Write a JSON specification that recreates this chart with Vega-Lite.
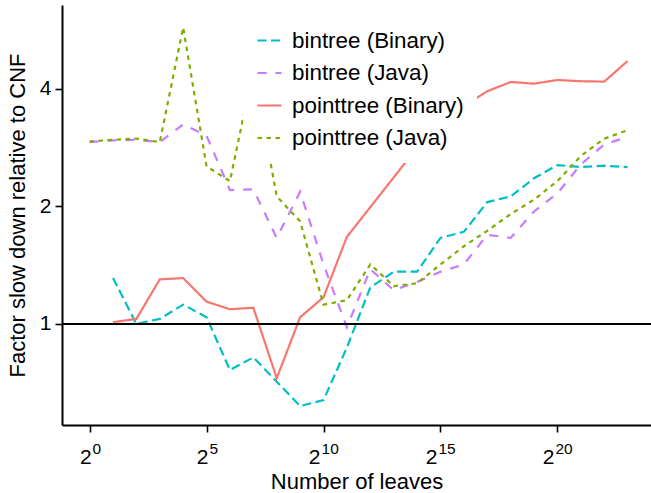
{
  "$schema": "https://vega.github.io/schema/vega-lite/v6.json",
  "width": 589,
  "height": 420,
  "autosize": "none",
  "padding": {"left": 62, "top": 5, "right": 0, "bottom": 68},
  "config": {"view": {"stroke": null}, "font": "Liberation Sans"},
  "datasets": {
    "runs": [
      {"leaves": 2, "series": "bintree (Binary)", "factor": 1.31},
      {"leaves": 4, "series": "bintree (Binary)", "factor": 1.0},
      {"leaves": 8, "series": "bintree (Binary)", "factor": 1.03},
      {"leaves": 16, "series": "bintree (Binary)", "factor": 1.12},
      {"leaves": 32, "series": "bintree (Binary)", "factor": 1.04},
      {"leaves": 64, "series": "bintree (Binary)", "factor": 0.762},
      {"leaves": 128, "series": "bintree (Binary)", "factor": 0.821},
      {"leaves": 256, "series": "bintree (Binary)", "factor": 0.711},
      {"leaves": 512, "series": "bintree (Binary)", "factor": 0.616},
      {"leaves": 1024, "series": "bintree (Binary)", "factor": 0.638},
      {"leaves": 2048, "series": "bintree (Binary)", "factor": 0.87},
      {"leaves": 4096, "series": "bintree (Binary)", "factor": 1.24},
      {"leaves": 8192, "series": "bintree (Binary)", "factor": 1.36},
      {"leaves": 16384, "series": "bintree (Binary)", "factor": 1.36},
      {"leaves": 32768, "series": "bintree (Binary)", "factor": 1.66},
      {"leaves": 65536, "series": "bintree (Binary)", "factor": 1.72},
      {"leaves": 131072, "series": "bintree (Binary)", "factor": 2.05},
      {"leaves": 262144, "series": "bintree (Binary)", "factor": 2.12},
      {"leaves": 524288, "series": "bintree (Binary)", "factor": 2.36},
      {"leaves": 1048576, "series": "bintree (Binary)", "factor": 2.55},
      {"leaves": 2097152, "series": "bintree (Binary)", "factor": 2.52},
      {"leaves": 4194304, "series": "bintree (Binary)", "factor": 2.54},
      {"leaves": 8388608, "series": "bintree (Binary)", "factor": 2.52},

      {"leaves": 1, "series": "bintree (Java)", "factor": 2.92},
      {"leaves": 2, "series": "bintree (Java)", "factor": 2.95},
      {"leaves": 4, "series": "bintree (Java)", "factor": 2.96},
      {"leaves": 8, "series": "bintree (Java)", "factor": 2.92},
      {"leaves": 16, "series": "bintree (Java)", "factor": 3.24},
      {"leaves": 32, "series": "bintree (Java)", "factor": 3.03},
      {"leaves": 64, "series": "bintree (Java)", "factor": 2.2},
      {"leaves": 128, "series": "bintree (Java)", "factor": 2.21},
      {"leaves": 256, "series": "bintree (Java)", "factor": 1.66},
      {"leaves": 512, "series": "bintree (Java)", "factor": 2.18},
      {"leaves": 1024, "series": "bintree (Java)", "factor": 1.42},
      {"leaves": 2048, "series": "bintree (Java)", "factor": 0.98},
      {"leaves": 4096, "series": "bintree (Java)", "factor": 1.38},
      {"leaves": 8192, "series": "bintree (Java)", "factor": 1.22},
      {"leaves": 16384, "series": "bintree (Java)", "factor": 1.28},
      {"leaves": 32768, "series": "bintree (Java)", "factor": 1.36},
      {"leaves": 65536, "series": "bintree (Java)", "factor": 1.42},
      {"leaves": 131072, "series": "bintree (Java)", "factor": 1.69},
      {"leaves": 262144, "series": "bintree (Java)", "factor": 1.66},
      {"leaves": 524288, "series": "bintree (Java)", "factor": 1.94},
      {"leaves": 1048576, "series": "bintree (Java)", "factor": 2.16},
      {"leaves": 2097152, "series": "bintree (Java)", "factor": 2.56},
      {"leaves": 4194304, "series": "bintree (Java)", "factor": 2.88},
      {"leaves": 8388608, "series": "bintree (Java)", "factor": 3.01},

      {"leaves": 2, "series": "pointtree (Binary)", "factor": 1.01},
      {"leaves": 4, "series": "pointtree (Binary)", "factor": 1.03},
      {"leaves": 8, "series": "pointtree (Binary)", "factor": 1.3},
      {"leaves": 16, "series": "pointtree (Binary)", "factor": 1.31},
      {"leaves": 32, "series": "pointtree (Binary)", "factor": 1.14},
      {"leaves": 64, "series": "pointtree (Binary)", "factor": 1.09},
      {"leaves": 128, "series": "pointtree (Binary)", "factor": 1.1},
      {"leaves": 256, "series": "pointtree (Binary)", "factor": 0.726},
      {"leaves": 512, "series": "pointtree (Binary)", "factor": 1.04},
      {"leaves": 1024, "series": "pointtree (Binary)", "factor": 1.17},
      {"leaves": 2048, "series": "pointtree (Binary)", "factor": 1.67},
      {"leaves": 4096, "series": "pointtree (Binary)", "factor": 1.99},
      {"leaves": 8192, "series": "pointtree (Binary)", "factor": 2.37},
      {"leaves": 16384, "series": "pointtree (Binary)", "factor": 2.83},
      {"leaves": 32768, "series": "pointtree (Binary)", "factor": 3.2},
      {"leaves": 65536, "series": "pointtree (Binary)", "factor": 3.61},
      {"leaves": 131072, "series": "pointtree (Binary)", "factor": 3.94},
      {"leaves": 262144, "series": "pointtree (Binary)", "factor": 4.16},
      {"leaves": 524288, "series": "pointtree (Binary)", "factor": 4.12},
      {"leaves": 1048576, "series": "pointtree (Binary)", "factor": 4.21},
      {"leaves": 2097152, "series": "pointtree (Binary)", "factor": 4.18},
      {"leaves": 4194304, "series": "pointtree (Binary)", "factor": 4.17},
      {"leaves": 8388608, "series": "pointtree (Binary)", "factor": 4.71},

      {"leaves": 1, "series": "pointtree (Java)", "factor": 2.93},
      {"leaves": 2, "series": "pointtree (Java)", "factor": 2.96},
      {"leaves": 4, "series": "pointtree (Java)", "factor": 2.98},
      {"leaves": 8, "series": "pointtree (Java)", "factor": 2.92},
      {"leaves": 16, "series": "pointtree (Java)", "factor": 5.74},
      {"leaves": 32, "series": "pointtree (Java)", "factor": 2.53},
      {"leaves": 64, "series": "pointtree (Java)", "factor": 2.32},
      {"leaves": 128, "series": "pointtree (Java)", "factor": 4.49},
      {"leaves": 256, "series": "pointtree (Java)", "factor": 2.12},
      {"leaves": 512, "series": "pointtree (Java)", "factor": 1.83},
      {"leaves": 1024, "series": "pointtree (Java)", "factor": 1.12},
      {"leaves": 2048, "series": "pointtree (Java)", "factor": 1.15},
      {"leaves": 4096, "series": "pointtree (Java)", "factor": 1.42},
      {"leaves": 8192, "series": "pointtree (Java)", "factor": 1.25},
      {"leaves": 16384, "series": "pointtree (Java)", "factor": 1.27},
      {"leaves": 32768, "series": "pointtree (Java)", "factor": 1.42},
      {"leaves": 65536, "series": "pointtree (Java)", "factor": 1.58},
      {"leaves": 131072, "series": "pointtree (Java)", "factor": 1.73},
      {"leaves": 262144, "series": "pointtree (Java)", "factor": 1.91},
      {"leaves": 524288, "series": "pointtree (Java)", "factor": 2.08},
      {"leaves": 1048576, "series": "pointtree (Java)", "factor": 2.32},
      {"leaves": 2097152, "series": "pointtree (Java)", "factor": 2.69},
      {"leaves": 4194304, "series": "pointtree (Java)", "factor": 2.98},
      {"leaves": 8388608, "series": "pointtree (Java)", "factor": 3.13}
    ],
    "reference": [{"factor": 1}]
  },
  "resolve": {"axis": {"x": "independent"}},
  "layer": [
    {
      "data": {"name": "runs"},
      "mark": {"type": "line", "strokeWidth": 2.2, "clip": true},
      "encoding": {
        "x": {
          "field": "leaves",
          "type": "quantitative",
          "scale": {"type": "log", "base": 2, "domain": [0.4414, 16777216], "nice": false},
          "axis": {
            "orient": "bottom",
            "title": "Number of leaves",
            "values": [1, 32, 1024, 32768, 1048576],
            "labelExpr": "'2'",
            "labelAlign": "right",
            "labelOffset": {"condition": {"test": "datum.value >= 1000", "value": -3.5}, "value": 1.5},
            "labelBaseline": "alphabetic",
            "labelPadding": 31,
            "grid": false,
            "domainColor": "black",
            "domainWidth": 2,
            "tickColor": "black",
            "tickWidth": 1.6,
            "tickSize": 7,
            "labelFontSize": 21,
            "labelColor": "black",
            "titleFontSize": 22,
            "titleFontWeight": "normal",
            "titleColor": "black",
            "titleBaseline": "alphabetic",
            "titleY": 63
          }
        },
        "y": {
          "field": "factor",
          "type": "quantitative",
          "scale": {"type": "log", "base": 2, "domain": [0.551, 6.55], "nice": false, "zero": false},
          "axis": {
            "title": "Factor slow down relative to CNF",
            "values": [1, 2, 4],
            "format": "d",
            "grid": false,
            "domainColor": "black",
            "domainWidth": 2,
            "tickColor": "black",
            "tickWidth": 1.6,
            "tickSize": 7,
            "labelFontSize": 21,
            "labelColor": "black",
            "labelPadding": 4,
            "titleFontSize": 22,
            "titleFontWeight": "normal",
            "titleColor": "black",
            "titlePadding": 10
          }
        },
        "color": {
          "field": "series",
          "type": "nominal",
          "scale": {
            "domain": ["bintree (Binary)", "bintree (Java)", "pointtree (Binary)", "pointtree (Java)"],
            "range": ["#00BFC4", "#C77CFF", "#F8766D", "#7CAE00"]
          },
          "legend": {
            "title": null,
            "orient": "none",
            "legendX": 181,
            "legendY": 9,
            "fillColor": "white",
            "padding": 13,
            "labelFontSize": 22.4,
            "labelColor": "black",
            "labelLimit": 400,
            "labelOffset": 9,
            "symbolType": "stroke",
            "symbolSize": 576,
            "symbolStrokeWidth": 2.2,
            "rowPadding": 7.5
          }
        },
        "strokeDash": {
          "field": "series",
          "type": "nominal",
          "scale": {
            "domain": ["bintree (Binary)", "bintree (Java)", "pointtree (Binary)", "pointtree (Java)"],
            "range": [[9, 4.5], [9, 9], [1, 0], [4.5, 4.5]]
          },
          "legend": {
            "title": null,
            "orient": "none",
            "legendX": 181,
            "legendY": 9,
            "fillColor": "white",
            "padding": 13,
            "labelFontSize": 22.4,
            "labelColor": "black",
            "labelLimit": 400,
            "labelOffset": 9,
            "symbolType": "stroke",
            "symbolSize": 576,
            "symbolStrokeWidth": 2.2,
            "rowPadding": 7.5
          }
        }
      }
    },
    {
      "data": {"name": "runs"},
      "mark": {"type": "point", "opacity": 0},
      "encoding": {
        "x": {
          "field": "leaves",
          "type": "quantitative",
          "axis": {
            "orient": "bottom",
            "title": null,
            "values": [1, 32, 1024, 32768, 1048576],
            "labelExpr": "datum.value == 1 ? '0' : datum.value == 32 ? '5' : datum.value == 1024 ? '10' : datum.value == 32768 ? '15' : '20'",
            "labelAlign": "left",
            "labelOffset": {"condition": {"test": "datum.value >= 1000", "value": -2.5}, "value": 2.5},
            "labelBaseline": "alphabetic",
            "labelPadding": 21,
            "labelFontSize": 15.5,
            "labelColor": "black",
            "grid": false,
            "domain": false,
            "tickSize": 7,
            "tickOpacity": 0
          }
        },
        "y": {"field": "factor", "type": "quantitative"}
      }
    },
    {
      "data": {"name": "reference"},
      "mark": {"type": "rule", "color": "black", "strokeWidth": 2},
      "encoding": {"y": {"field": "factor", "type": "quantitative"}}
    }
  ]
}
